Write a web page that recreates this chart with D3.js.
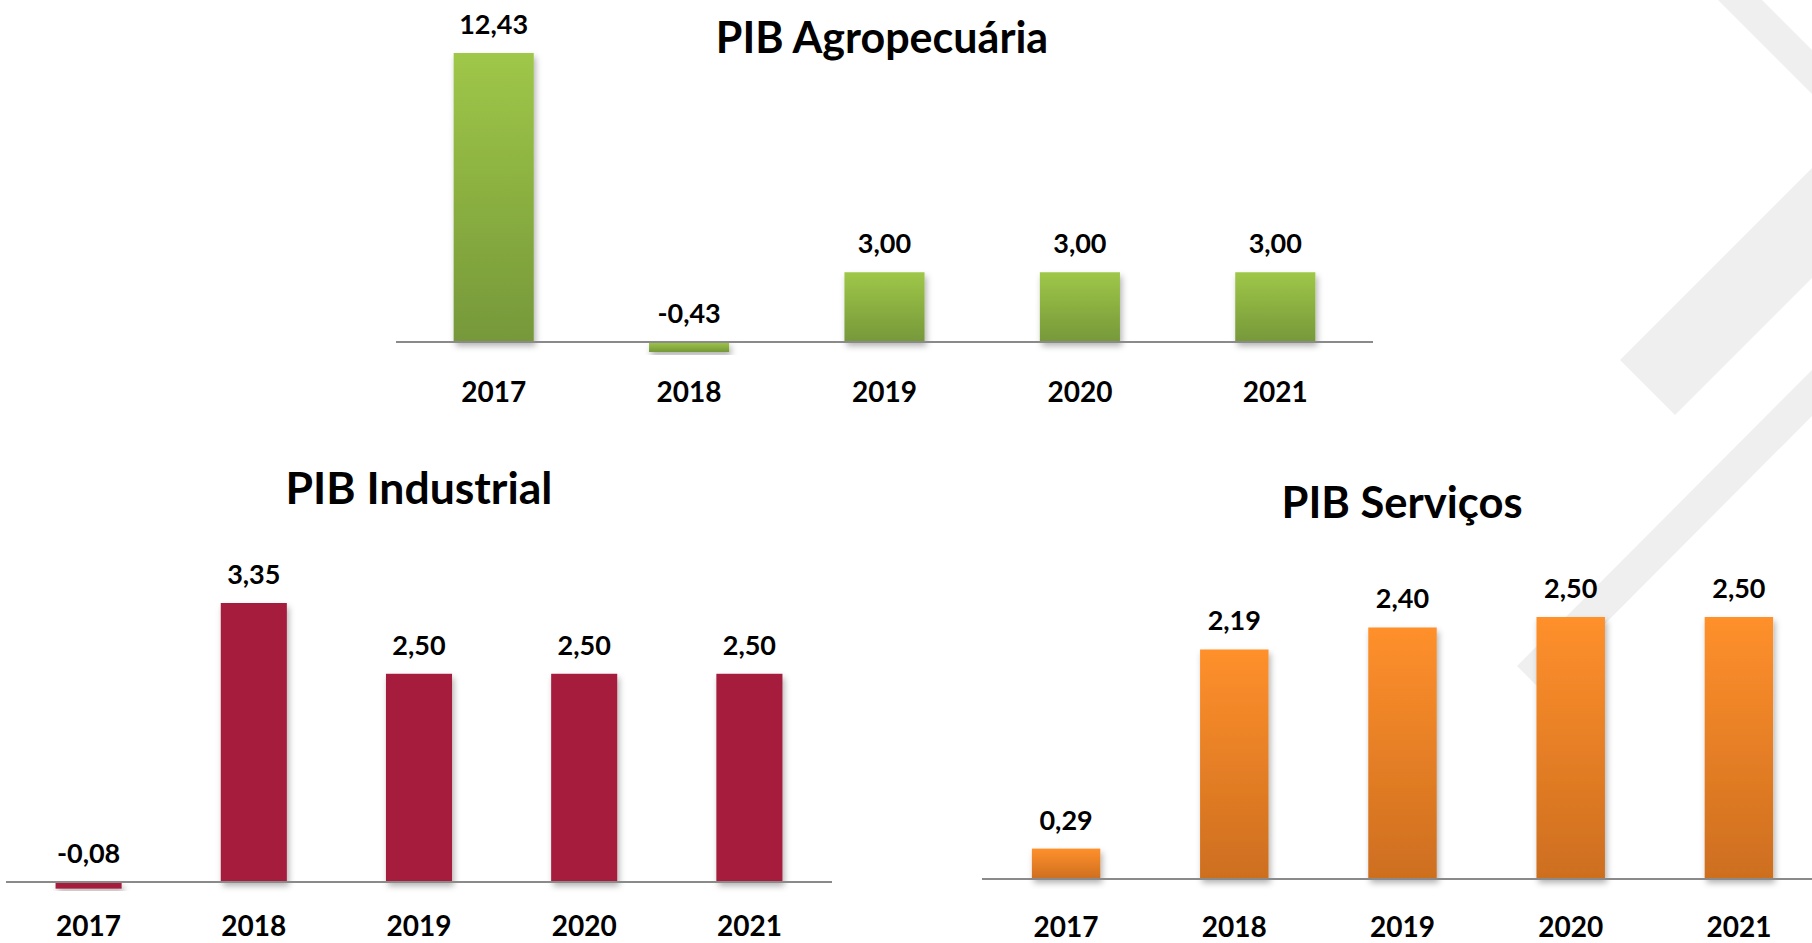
<!DOCTYPE html>
<html>
<head>
<meta charset="utf-8">
<script src="https://cdn.jsdelivr.net/npm/d3@7"></script>
<style>
  body { margin: 0; background: #fff; overflow: hidden; }
  svg { display: block; font-family: Lato, "Open Sans", sans-serif; font-weight: 700; }
</style>
</head>
<body>
<div class="chart"></div>
<script>
// Data
var years = ["2017", "2018", "2019", "2020", "2021"];
var agroValues = [12.43, -0.43, 3.00, 3.00, 3.00];
var industrialValues = [-0.08, 3.35, 2.50, 2.50, 2.50];
var servicosValues = [0.29, 2.19, 2.40, 2.50, 2.50];

var svgWidth = 1812;
var svgHeight = 943;

// layout of the three panels (pixel positions only)
var panels = [
  { title: "PIB Agropecuária", values: agroValues, fill: "url(#gradGreen)",
    x0: 396, x1: 1373, base: 342, topVal: 12.43, topY: 53, pad: 0.59,
    titleX: 882, titleY: 53, titleSize: 43, catY: 402 },
  { title: "PIB Industrial", values: industrialValues, fill: "#a61a3c",
    x0: 6, x1: 832, base: 882, topVal: 3.35, topY: 603, pad: 0.6,
    titleX: 419, titleY: 504, titleSize: 44.5, catY: 936 },
  { title: "PIB Serviços", values: servicosValues, fill: "url(#gradOrange)",
    x0: 982, x1: 1823, base: 879, topVal: 2.5, topY: 617, pad: 0.593,
    titleX: 1402, titleY: 518, titleSize: 43.5, catY: 937 }
];

var br = d3.formatLocale({ decimal: ",", thousands: ".", grouping: [3], currency: ["R$", ""], minus: "-" });
var fmt = br.format(".2f");

var svg = d3.select(".chart")
    .append("svg")
    .attr("width", svgWidth)
    .attr("height", svgHeight);

var defs = svg.append("defs");

function gradient(id, top, bottom) {
  var g = defs.append("linearGradient").attr("id", id)
    .attr("x1", 0).attr("y1", 0).attr("x2", 0).attr("y2", 1);
  g.append("stop").attr("offset", "0%").attr("stop-color", top);
  g.append("stop").attr("offset", "100%").attr("stop-color", bottom);
}
gradient("gradGreen", "#9fc748", "#76983a");
gradient("gradOrange", "#ff902c", "#cd6e1f");

var shadow = defs.append("filter").attr("id", "shadow")
  .attr("x", "-20%").attr("y", "-20%").attr("width", "150%").attr("height", "150%");
shadow.append("feDropShadow")
  .attr("dx", 2).attr("dy", 4).attr("stdDeviation", 3)
  .attr("flood-color", "#000").attr("flood-opacity", 0.3);

// background watermark stripes (decoration)
var stripes = [
  [[1718, 0], [1762, 0], [1812, 50], [1812, 94]],
  [[1812, 168], [1620, 360], [1675, 415], [1812, 278]],
  [[1812, 370], [1517, 666], [1540, 689], [1812, 416]]
];
svg.append("g").selectAll("polygon")
  .data(stripes)
  .enter()
  .append("polygon")
  .attr("points", d => d.map(p => p.join(",")).join(" "))
  .attr("fill", "#efefef");

panels.forEach(function(p) {
  var x = d3.scaleBand()
    .domain(years)
    .range([p.x0, p.x1])
    .paddingInner(p.pad)
    .paddingOuter(p.pad / 2);

  var y = d3.scaleLinear()
    .domain([0, p.topVal])
    .range([p.base, p.topY]);

  var g = svg.append("g");

  // bars
  g.selectAll("rect")
    .data(p.values)
    .enter()
    .append("rect")
    .attr("x", (d, i) => x(years[i]))
    .attr("y", d => y(Math.max(0, d)))
    .attr("width", x.bandwidth())
    .attr("height", d => Math.abs(y(d) - y(0)))
    .attr("fill", p.fill)
    .attr("filter", "url(#shadow)");

  // baseline
  g.append("line")
    .attr("x1", p.x0).attr("x2", p.x1)
    .attr("y1", y(0)).attr("y2", y(0))
    .attr("stroke", "#8a8a8a")
    .attr("stroke-width", 2);

  // value labels
  g.selectAll(".value")
    .data(p.values)
    .enter()
    .append("text")
    .attr("class", "value")
    .attr("x", (d, i) => x(years[i]) + x.bandwidth() / 2)
    .attr("y", d => y(Math.max(0, d)) - 19)
    .attr("text-anchor", "middle")
    .attr("font-size", 27)
    .attr("fill", "#000")
    .text(d => fmt(d));

  // category labels
  g.selectAll(".cat")
    .data(years)
    .enter()
    .append("text")
    .attr("class", "cat")
    .attr("x", d => x(d) + x.bandwidth() / 2)
    .attr("y", p.catY)
    .attr("text-anchor", "middle")
    .attr("font-size", 28)
    .attr("fill", "#000")
    .text(d => d);

  // title
  g.append("text")
    .attr("x", p.titleX)
    .attr("y", p.titleY)
    .attr("text-anchor", "middle")
    .attr("font-size", p.titleSize)
    .attr("fill", "#000")
    .text(p.title);
});
</script>
</body>
</html>
